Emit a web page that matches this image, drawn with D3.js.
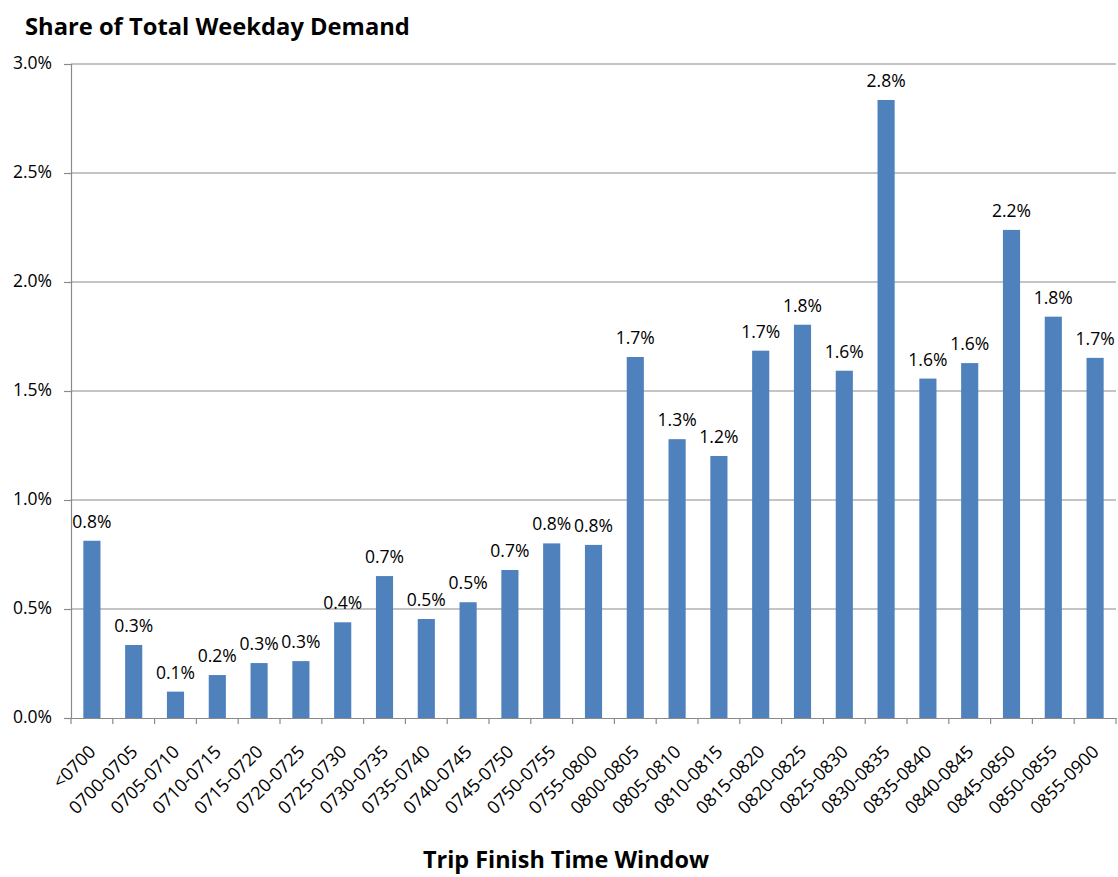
<!DOCTYPE html>
<html>
<head>
<meta charset="utf-8">
<script src="https://cdn.jsdelivr.net/npm/d3@7"></script>
<style>
  body { margin: 0; background: #fff; }
  text { font-family: "Open Sans", sans-serif; fill: #000; }
</style>
</head>
<body>
<div class="canvas-graph"></div>
<script>
const windows = ['<0700', '0700-0705', '0705-0710', '0710-0715', '0715-0720', '0720-0725',
    '0725-0730', '0730-0735', '0735-0740', '0740-0745', '0745-0750', '0750-0755', '0755-0800',
    '0800-0805', '0805-0810', '0810-0815', '0815-0820', '0820-0825', '0825-0830', '0830-0835',
    '0835-0840', '0840-0845', '0845-0850', '0850-0855', '0855-0900'];
const shares = [0.813, 0.335, 0.121, 0.197, 0.252, 0.261, 0.439, 0.651, 0.454, 0.531, 0.679,
    0.801, 0.794, 1.656, 1.279, 1.202, 1.685, 1.804, 1.593, 2.835, 1.557, 1.628, 2.239, 1.841, 1.652];
const yTicks = [0, 0.5, 1.0, 1.5, 2.0, 2.5, 3.0];

const dims = { width: 1118, height: 877 };
const margin = { left: 71, right: 2, top: 64, bottom: 159 };
const gridColor = '#8a8a8a';

const svg = d3.select('.canvas-graph')
    .append('svg')
    .attr('width', dims.width)
    .attr('height', dims.height);

const x = d3.scaleBand()
    .domain(windows)
    .range([margin.left, dims.width - margin.right])
    .paddingInner(0.59)
    .paddingOuter(0.295);

const y = d3.scaleLinear()
    .domain([0, 3])
    .range([dims.height - margin.bottom, margin.top]);

// gridlines
svg.append('g')
    .selectAll('line')
    .data(yTicks.slice(1))
    .enter().append('line')
    .attr('x1', margin.left)
    .attr('x2', dims.width - margin.right)
    .attr('y1', d => y(d))
    .attr('y2', d => y(d))
    .attr('stroke', gridColor)
    .attr('stroke-width', 1.2);

// y axis
const yAxis = svg.append('g')
    .attr('transform', `translate(${margin.left}, 0)`)
    .call(d3.axisLeft(y).tickValues(yTicks).tickSize(7).tickPadding(12)
        .tickFormat(d => d.toFixed(1) + '%'));
yAxis.selectAll('text')
    .style('font-size', '17.5px')
    .attr('dy', '0.25em');

// x axis
const xAxis = svg.append('g')
    .attr('transform', `translate(0, ${y(0)})`)
    .call(d3.axisBottom(x).tickSize(0).tickPadding(0));
xAxis.selectAll('.tick line').remove();
xAxis.selectAll('.tick text')
    .style('font-size', '18px')
    .attr('text-anchor', 'end')
    .attr('dy', 0)
    .attr('transform', 'translate(5, 35) rotate(-45)');

// category boundary ticks
svg.append('g')
    .selectAll('line')
    .data(d3.range(windows.length + 1))
    .enter().append('line')
    .attr('x1', i => margin.left + i * x.step())
    .attr('x2', i => margin.left + i * x.step())
    .attr('y1', y(0))
    .attr('y2', y(0) + 6)
    .attr('stroke', gridColor)
    .attr('stroke-width', 1.2);

[yAxis, xAxis].forEach(g => {
    g.select('.domain').attr('stroke', gridColor).attr('stroke-width', 1.2);
    g.selectAll('.tick line').attr('stroke', gridColor).attr('stroke-width', 1.2);
});

// bars
svg.append('g')
    .selectAll('rect')
    .data(shares)
    .enter().append('rect')
    .attr('x', (d, i) => x(windows[i]))
    .attr('width', x.bandwidth())
    .attr('y', d => y(d))
    .attr('height', d => y(0) - y(d))
    .attr('fill', '#4f81bd');

// data labels
svg.append('g')
    .selectAll('text')
    .data(shares)
    .enter().append('text')
    .attr('x', (d, i) => x(windows[i]) + x.bandwidth() / 2)
    .attr('y', d => y(d) - 13)
    .attr('text-anchor', 'middle')
    .style('font-size', '17.5px')
    .text(d => d.toFixed(1) + '%');

// titles, sized to the width they take in the original
const fitText = (sel, width) => {
    const w = sel.node().getComputedTextLength();
    sel.style('font-size', (22 * width / w) + 'px');
};

const title = svg.append('text')
    .attr('x', 25)
    .attr('y', 35)
    .style('font-size', '22px')
    .style('font-weight', 'bold')
    .text('Share of Total Weekday Demand');
fitText(title, 385);

const xTitle = svg.append('text')
    .attr('x', 566)
    .attr('y', 868)
    .attr('text-anchor', 'middle')
    .style('font-size', '22px')
    .style('font-weight', 'bold')
    .text('Trip Finish Time Window');
fitText(xTitle, 286);
</script>
</body>
</html>
